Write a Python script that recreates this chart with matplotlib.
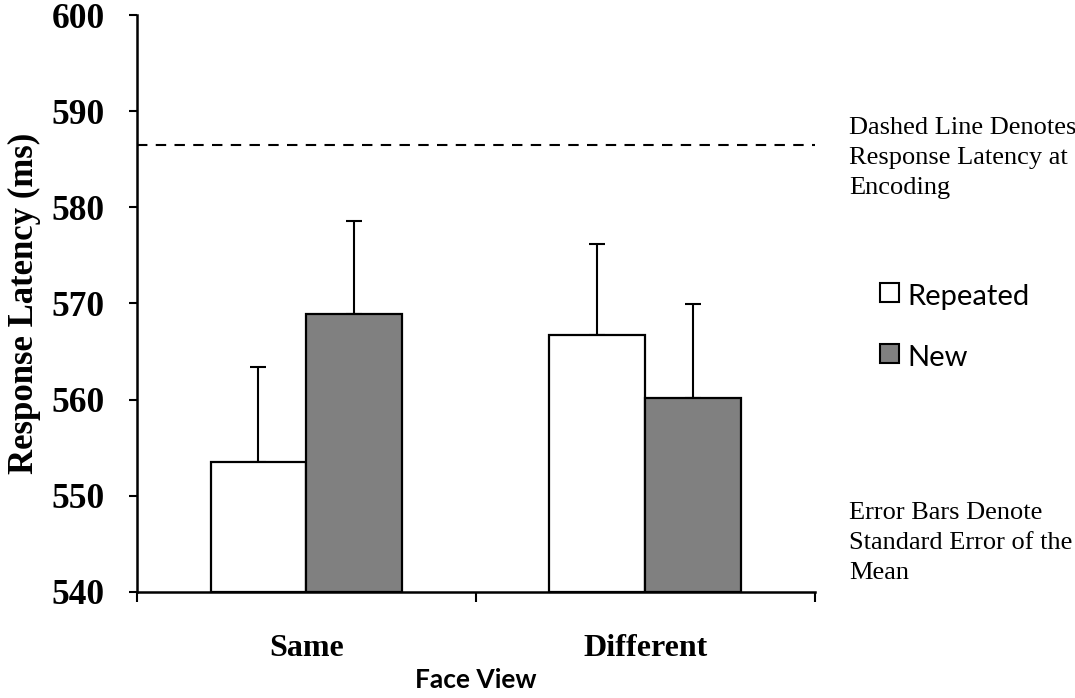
import matplotlib

matplotlib.use("Agg")
import matplotlib.pyplot as plt
import numpy as np
from matplotlib.patches import Rectangle

# data
views = ["Same", "Different"]
conditions = ["Repeated", "New"]
repeated = [553.5, 566.7]
new = [568.9, 560.2]
repeated_se = [9.9, 9.5]
new_se = [9.7, 9.7]
encoding_latency = 586.5
y_ticks = [540, 550, 560, 570, 580, 590, 600]

SERIF = "Liberation Serif"
SANS = ["Lato", "DejaVu Sans"]
GRAY_FILL = "#808080"

fig = plt.figure(figsize=(10.75, 6.98), dpi=100)
ax = fig.add_axes([0.1274, 0.152, 0.6306, 0.8265])

x = np.arange(len(views))
w = 0.283
ebar = dict(ecolor="black", elinewidth=1.5, capsize=6, capthick=1.5)
ax.bar(x - w / 2, np.array(repeated) - 540, w, bottom=540, color="white",
       edgecolor="black", linewidth=1.6, zorder=2)
ax.bar(x + w / 2, np.array(new) - 540, w, bottom=540, color=GRAY_FILL,
       edgecolor="black", linewidth=1.6, zorder=2)
ax.errorbar(x - w / 2, repeated, yerr=[np.zeros(2), repeated_se], fmt="none", zorder=1, **ebar)
ax.errorbar(x + w / 2, new, yerr=[np.zeros(2), new_se], fmt="none", zorder=1, **ebar)

ax.axhline(encoding_latency, color="black", linewidth=1.5, linestyle=(0, (5, 4)), zorder=3)

ax.set_xlim(-0.5, 1.5)
ax.set_ylim(540, 600)
ax.set_yticks(y_ticks)
ax.set_yticklabels([str(v) for v in y_ticks], fontfamily=SERIF, fontweight="bold", fontsize=25.5)
ax.set_xticks(x)
ax.set_xticklabels(views, fontfamily=SERIF, fontweight="bold", fontsize=23)
ax.set_xticks([-0.5, 0.5, 1.5], minor=True)
ax.tick_params(axis="x", which="major", length=0, pad=30)
ax.tick_params(axis="x", which="minor", length=7, width=1.5, direction="out")
ax.tick_params(axis="y", length=6, width=1.5, direction="out", pad=17)

for s in ["top", "right"]:
    ax.spines[s].set_visible(False)
for s in ["left", "bottom"]:
    ax.spines[s].set_linewidth(1.8)

ax.set_ylabel("Response Latency (ms)", fontfamily=SERIF, fontweight="bold", fontsize=25, labelpad=8)
ax.set_xlabel("Face View", fontfamily=SANS, fontweight="bold", fontsize=19, labelpad=4)

# legend drawn as squares + labels like the original
for i, (lab, fc) in enumerate(zip(conditions, ["white", GRAY_FILL])):
    yy = 1 - (292 + i * 61) / 698
    fig.patches.append(Rectangle((880 / 1075, yy - 9.5 / 698), 19 / 1075, 19 / 698,
                                 transform=fig.transFigure, facecolor=fc,
                                 edgecolor="black", linewidth=1.5))
    fig.text(907 / 1075, yy - 5 / 698, lab, family=SANS, fontsize=21, va="center", ha="left")

fig.text(849 / 1075, 1 - 117 / 698, "Dashed Line Denotes\nResponse Latency at\nEncoding",
         family=SERIF, fontsize=19, va="top", ha="left", linespacing=1.48)
fig.text(849 / 1075, 1 - 502 / 698, "Error Bars Denote\nStandard Error of the\nMean",
         family=SERIF, fontsize=19, va="top", ha="left", linespacing=1.48)

fig.savefig("out.png", dpi=100)
